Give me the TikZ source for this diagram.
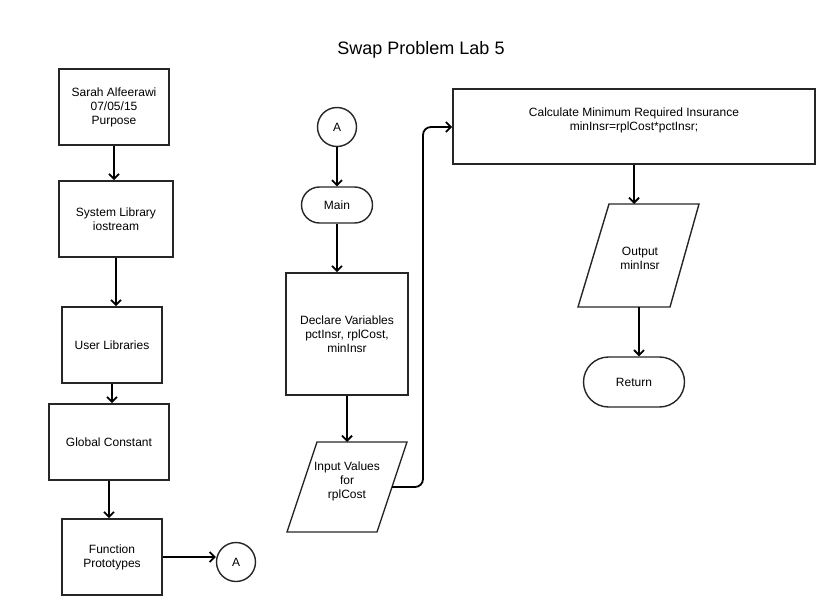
\documentclass[tikz,border=0pt]{standalone}
\usepackage{fontspec}
\setmainfont{Liberation Sans}
\usetikzlibrary{arrows.meta,shapes.misc}
\begin{document}
\begin{tikzpicture}[x=1pt,y=-1pt,
  every node/.style={font=\fontsize{12}{14}\selectfont, align=center, inner sep=0pt},
  procbox/.style={draw=black!85, line width=1.6pt, rectangle},
  termbox/.style={draw=black!85, line width=1.4pt, rounded rectangle},
  conn/.style={draw=black!85, line width=1.4pt, circle, minimum size=39pt},
  iobox/.style={draw=black!85, line width=1.4pt, line join=miter},
  arr/.style={draw=black, line width=1.8pt, -{Straight Barb[length=5pt,width=10pt]}},
  flowline/.style={draw=black, line width=1.8pt, rounded corners=8pt, -{Straight Barb[length=5pt,width=10pt]}}
]
\useasboundingbox (0,0) rectangle (838,615);

% title
\node[font=\fontsize{18}{20}\selectfont] (title) at (421,50) {Swap Problem Lab 5};

% left column
\node[procbox, minimum width=110pt, minimum height=76pt] (b1) at (114,107) {Sarah Alfeerawi\\07/05/15\\Purpose};
\node[procbox, minimum width=114pt, minimum height=76pt] (b2) at (116,219) {System Library\\iostream};
\node[procbox, minimum width=100pt, minimum height=76pt] (b3) at (112,345) {User Libraries};
\node[procbox, minimum width=120pt, minimum height=76pt] (b4) at (109,442) {Global Constant};
\node[procbox, minimum width=100pt, minimum height=76pt] (b5) at (112,557) {Function\\Prototypes};
\node[conn] (a2) at (236,562) {A};

\draw[arr] (b1.south) -- (b1.south |- b2.north);
\draw[arr] (b2.south) -- (b2.south |- b3.north);
\draw[arr] (b3.south) -- (b3.south |- b4.north);
\draw[arr] (b4.south) -- (b4.south |- b5.north);
\draw[arr] (b5.east) -- (a2.west |- b5.east);

% middle column
\node[conn] (a1) at (337,127) {A};
\node[termbox, minimum width=71pt, minimum height=36pt] (main) at (337,205) {Main};
\node[procbox, minimum width=122pt, minimum height=122pt] (decl) at (347,334) {Declare Variables\\pctInsr, rplCost,\\minInsr};

\draw[iobox] (317,442) -- (407,442) -- (377,532) -- (287,532) -- cycle;
\coordinate (inptop) at (347,442);
\coordinate (inpright) at (392,487);
\node (inp) at (347,481) {Input Values\\for\\rplCost};

\draw[arr] (a1.south) -- (a1.south |- main.north);
\draw[arr] (main.south) -- (main.south |- decl.north);
\draw[arr] (decl.south) -- (decl.south |- inptop);

% right column
\node[procbox, minimum width=362pt, minimum height=75pt] (calc) at (634,126.5) {};
\node (calctext) at (634,120) {Calculate Minimum Required Insurance\\minInsr=rplCost*pctInsr;};
\coordinate (bendlow) at (423,487);
\coordinate (bendhigh) at (423,127);
\draw[flowline] (inpright) -- (bendlow) -- (bendhigh) -- (calc.west |- bendhigh);

\draw[iobox] (609,204) -- (699,204) -- (670,307) -- (578,307) -- cycle;
\coordinate (outtop) at (634,204);
\coordinate (outbot) at (639,307);
\node (out) at (640,258) {Output\\minInsr};
\node[termbox, minimum width=101pt, minimum height=50pt] (ret) at (634,382) {Return};

\draw[arr] (calc.south -| outtop) -- (outtop);
\draw[arr] (outbot) -- (outbot |- ret.north);
\end{tikzpicture}
\end{document}
